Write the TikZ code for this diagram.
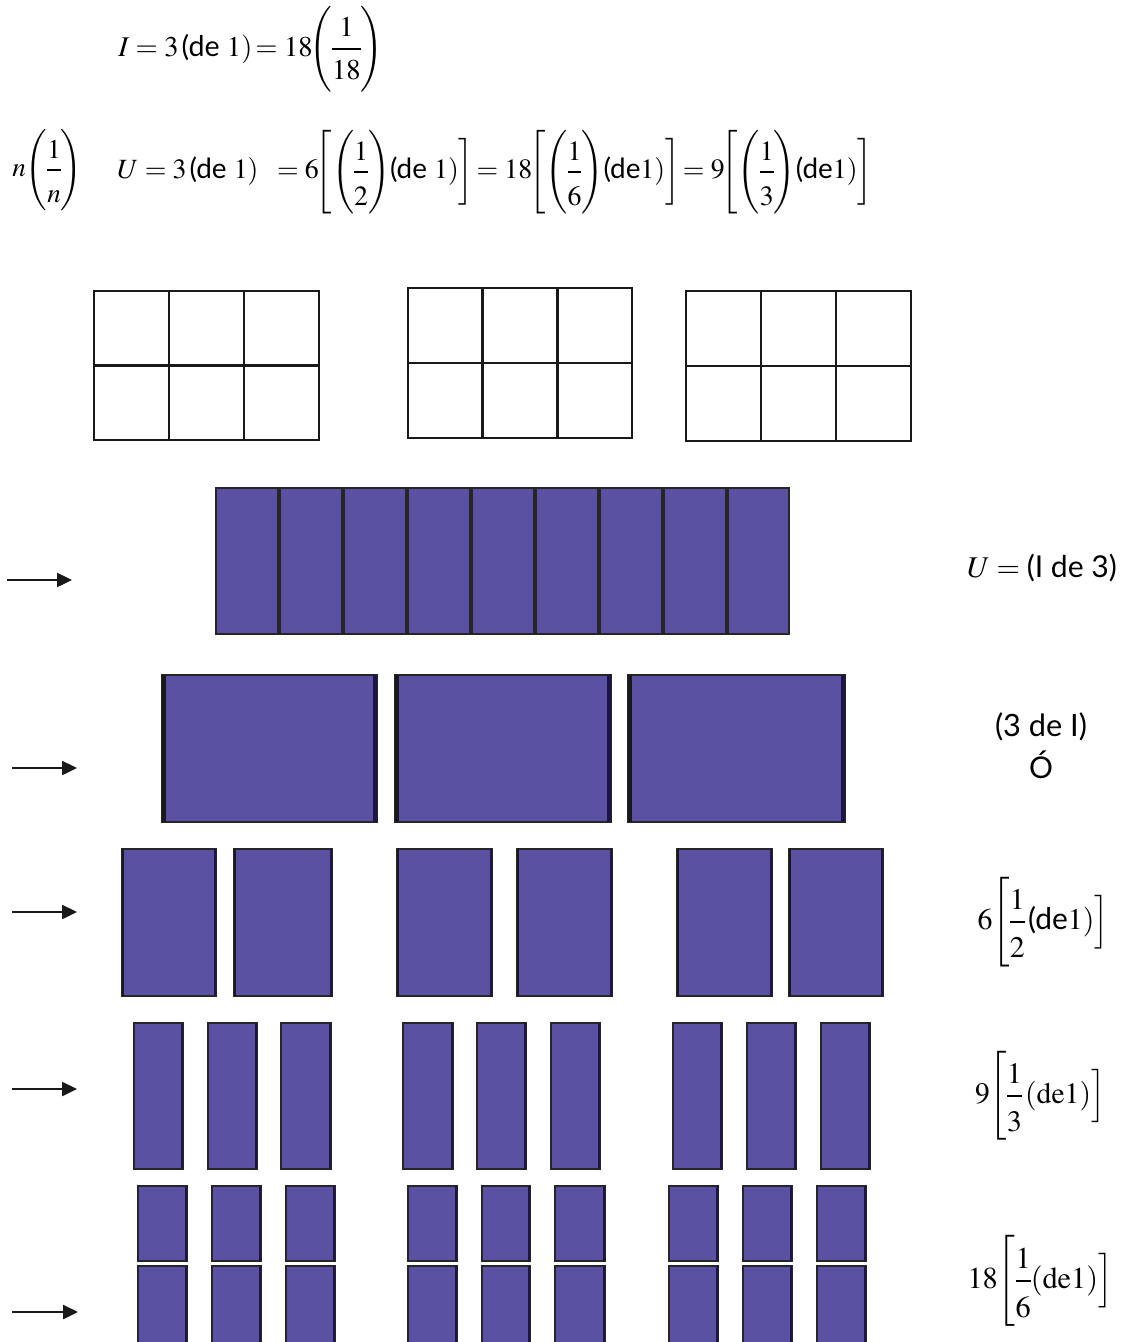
\documentclass[tikz,border=0pt]{standalone}
\usepackage{amsmath}
\usepackage{mathptmx}
\usepackage[no-math]{fontspec}
\setmainfont{Liberation Serif}
\setsansfont{Lato}
\usetikzlibrary{arrows.meta}
\definecolor{pur}{RGB}{91,81,163}
\definecolor{navyedge}{RGB}{30,20,75}
\tikzset{
  gridline/.style={draw=black!90, line width=1.5pt},
  pbox/.style={fill=pur, draw=black!85, line width=0.9pt},
  leftedge/.style={draw=black!90, line width=2.2pt},
  rightedge/.style={draw=navyedge, line width=1.6pt},
  arr/.style={draw=black!90, line width=1.4pt, -{Triangle[length=0.3cm, width=0.28cm]}},
  lbl/.style={inner sep=0pt}
}
\newcommand\tallfrac[2]{\dfrac{\rule{0pt}{2.1ex}#1}{\rule{0pt}{2.3ex}#2}}
\newcommand\midfrac[2]{\dfrac{\rule{0pt}{1.6ex}#1}{\rule{0pt}{2.0ex}#2}}
\begin{document}
\nulldelimiterspace=0pt
\begin{tikzpicture}[x=0.02cm,y=-0.02cm]
\useasboundingbox (0,0) rectangle (1123,1342);

% ---------- formulas ----------
\node[lbl, anchor=west] (f1) at (118,49)
  {\resizebox{5.3cm}{!}{$I = 3\,\textsf{(de }1)\!= 18\!\Bigg(\midfrac{1}{18}\Bigg)$}};
\node[lbl, anchor=west] (fn) at (12,170)
  {\resizebox{1.4cm}{!}{$n\!\left(\tallfrac{1}{n}\right)$}};
\node[lbl, anchor=west] (f2) at (117,172)
  {\resizebox{15.1cm}{!}{$U = 3\,\textsf{(de }1)\;\; = 6\!\Bigg[\!\left(\tallfrac{1}{2}\right)\!\textsf{(de }1)\bigg]\!= 18\!\Bigg[\!\left(\tallfrac{1}{6}\right)\!\textsf{(de}1)\bigg]\!= 9\!\Bigg[\!\left(\tallfrac{1}{3}\right)\!\textsf{(de}1)\bigg]$}};

% ---------- white grids ----------
\foreach \xa/\ya/\xb/\yb in {94/291/319/440, 408/288/632/438, 686/291/911/441}{
  \pgfmathsetmacro\xm{\xa+(\xb-\xa)/3}
  \pgfmathsetmacro\xn{\xa+2*(\xb-\xa)/3}
  \pgfmathsetmacro\ym{(\ya+\yb)/2}
  \draw[gridline] (\xa,\ya) rectangle (\xb,\yb);
  \draw[gridline] (\xm,\ya) -- (\xm,\yb);
  \draw[gridline] (\xn,\ya) -- (\xn,\yb);
  \draw[gridline] (\xa,\ym) -- (\xb,\ym);
}

% ---------- row 1: nine pieces ----------
\foreach \xa/\xb in {215/279, 279/343, 343/407, 407/471, 471/535, 535/599, 599/663, 663/727, 727/790}{
  \draw[pbox] (\xa+1,488) rectangle (\xb-1,634);
}

% ---------- row 2: three pieces ----------
\foreach \xa/\xb in {162/377, 395/611, 628/845}{
  \draw[pbox] (\xa,675) rectangle (\xb,822);
  \draw[leftedge, line width=2.6pt] (\xa+2,675) -- (\xa+2,822);
  \draw[rightedge, line width=1.8pt] (\xb-2,675) -- (\xb-2,822);
}

% ---------- row 3: six pieces ----------
\foreach \xa/\xb in {122/216, 234/332, 397/492, 517/612, 677/772, 789/883}{
  \draw[pbox] (\xa,849) rectangle (\xb,996);
  \draw[leftedge, line width=1.4pt] (\xa+1,849) -- (\xa+1,996);
  \draw[rightedge] (\xb-1,849) -- (\xb-1,996);
}

% ---------- row 4: nine pieces ----------
\foreach \xa/\xb in {134/183, 208/257, 281/331, 403/453, 477/526, 551/600, 673/722, 747/796, 821/870}{
  \draw[pbox] (\xa,1023) rectangle (\xb,1169);
  \draw[rightedge, line width=1.2pt] (\xb-1,1023) -- (\xb-1,1169);
}

% ---------- row 5: eighteen pieces ----------
\foreach \xa/\xb in {138/187, 212/261, 286/335, 408/457, 482/530, 555/605, 669/718, 743/792, 817/866}{
  \draw[pbox] (\xa,1186) rectangle (\xb,1261);
  \draw[rightedge, line width=1.2pt] (\xb-1,1186) -- (\xb-1,1261);
  \draw[pbox] (\xa,1266) rectangle (\xb,1345);
  \draw[rightedge, line width=1.2pt] (\xb-1,1266) -- (\xb-1,1345);
}

% ---------- arrows ----------
\coordinate (a1s) at (7,580);   \coordinate (a1e) at (72,580);
\coordinate (a2s) at (12,768);  \coordinate (a2e) at (77,768);
\coordinate (a3s) at (12,912);  \coordinate (a3e) at (77,912);
\coordinate (a4s) at (12,1089); \coordinate (a4e) at (77,1089);
\coordinate (a5s) at (12,1312); \coordinate (a5e) at (78,1312);
\draw[arr] (a1s) -- (a1e);
\draw[arr] (a2s) -- (a2e);
\draw[arr] (a3s) -- (a3e);
\draw[arr] (a4s) -- (a4e);
\draw[arr] (a5s) -- (a5e);

% ---------- right labels ----------
\node[lbl] (l1) at (1042,568) {\resizebox{3.0cm}{!}{$U = {}$\textsf{(I de 3)}}};
\node[lbl] (l2) at (1041,727) {\resizebox{1.84cm}{!}{\textsf{(3 de I)}}};
\node[lbl] (l2b) at (1041,765) {\fontsize{17}{20}\selectfont\textsf{Ó}};
\node[lbl] (l3) at (1043,922) {\resizebox{2.62cm}{!}{$6\!\left[\tallfrac{1}{2}\,\textsf{(de}1)\right.\!\Big]$}};
\node[lbl] (l4) at (1040,1096) {\resizebox{2.6cm}{!}{$9\!\left[\tallfrac{1}{3}\,(\mathrm{de}1)\right.\!\Big]$}};
\node[lbl] (l5) at (1040,1281) {\resizebox{2.9cm}{!}{$18\!\left[\tallfrac{1}{6}(\mathrm{de}1)\right.\!\Big]$}};
\end{tikzpicture}
\end{document}
